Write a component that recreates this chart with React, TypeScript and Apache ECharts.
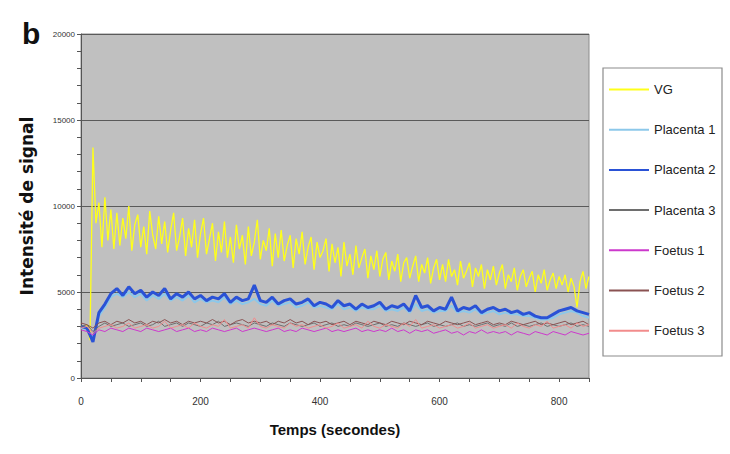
import React, { useEffect, useRef } from "react";
import * as echarts from "echarts";

// Sampling step (seconds) of each recorded series
const VG_STEP = 5;
const STEP = 10;

const seriesNames = ["VG", "Placenta 1", "Placenta 2", "Placenta 3", "Foetus 1", "Foetus 2", "Foetus 3"];
const seriesColors = ["#ffff1a", "#8cc8ea", "#2a52d6", "#6e6e6e", "#cc38cc", "#8a5252", "#f28c8c"];
const seriesWidths = [1.3, 2, 3, 1, 1, 1, 1];

const xTicks = [0, 200, 400, 600, 800];
const yTicks = [0, 5000, 10000, 15000, 20000];

// VG, t = 0..850 every 5 s
const vg = [
  3000, 2800, 3100, 2200, 13400, 9000, 10200, 7600, 10500, 8000, 9800, 7500,
  9600, 7700, 9300, 8100, 10000, 7400, 8900, 9500, 7600, 8800, 7200, 9700, 8300, 7500, 9400,
  7800, 9100, 7300, 8600, 9600, 7400, 8200, 9300, 7100, 8700, 7600, 9200, 7000, 8400,
  9300, 7200, 8100, 9000, 6800, 8500, 7300, 9100, 7000, 8200, 6700, 8900, 7500, 8300, 6600,
  8800, 7100, 7900, 9200, 6900, 8000, 7400, 8700, 6500, 8400, 7000, 8600, 6800, 7700, 8300,
  6400, 8100, 7200, 8500, 6600, 7600, 8200, 6300, 7900, 7000,
  7400, 8100, 6200, 7800, 6700, 7600, 5900, 7900, 6500, 7200, 6000, 7700, 6400, 7000, 7500,
  5800, 7100, 6300, 7400, 5900, 6900, 7300, 5700, 6800, 6200, 7200, 5600, 6700, 7000, 5800,
  6500, 7100, 5600, 6600, 6100, 7000, 5500, 6400, 6900, 5700,
  6600, 5600, 6900, 5900, 6300, 5400, 6800, 5800, 6200, 6700, 5300, 6400, 5900, 6600, 5200,
  6300, 5700, 6500, 5400, 6100, 6600, 5200, 6000, 5600, 6400, 5100, 5900, 6300, 5300, 5800,
  6200, 5000, 6000, 5500, 6300, 5100, 5700, 6100, 5200, 5900, 5400, 6000, 5000, 5800, 5300,
  4100, 5600, 6200, 5200, 5900,
];

// Other series, t = 0..850 every 10 s
const placenta1 = [
  2900, 2800, 2300, 3600, 4100, 4700, 4900, 4700, 5000, 4700,
  4900, 4500, 4800, 4600, 4900, 4500, 4700, 4500, 4800, 4400,
  4600, 4400, 4500, 4400, 4700, 4300, 4500, 4300, 4400, 4600,
  4300, 4200, 4500, 4200, 4300, 4400, 4100, 4200, 4400, 4100,
  4200, 4100, 4000, 4300, 4000, 4100, 3900, 4100, 4000, 4000,
  4200, 3900, 4000, 3900, 4100, 3800, 4300, 3900, 4000, 3800,
  3900, 3900, 4200, 3800, 3900, 3800, 4000, 3700, 3800, 3900,
  3700, 3800, 3700, 3700, 3600, 3600, 3500, 3400, 3400, 3500,
  3700, 3800, 3900, 3800, 3600, 3500,
];
const placenta2 = [
  3000, 2900, 2100, 3800, 4300, 4900, 5200, 4800, 5300, 4900,
  5100, 4700, 5000, 4800, 5200, 4600, 4900, 4700, 5000, 4600,
  4800, 4500, 4700, 4600, 4900, 4400, 4700, 4500, 4600, 5400,
  4500, 4400, 4700, 4300, 4500, 4600, 4300, 4400, 4600, 4200,
  4400, 4300, 4100, 4500, 4200, 4300, 4000, 4300, 4100, 4200,
  4400, 4000, 4200, 4100, 4300, 3900, 4800, 4100, 4200, 3900,
  4100, 4000, 4700, 3900, 4100, 4000, 4200, 3800, 4000, 4100,
  3900, 4000, 3800, 3900, 3700, 3800, 3600, 3500, 3500, 3700,
  3900, 4000, 4100, 3900, 3800, 3700,
];
const placenta3 = [
  3000, 3100, 2700, 3000, 3200, 3000, 3100, 3200, 3000, 3100,
  3200, 3000, 3100, 3300, 3000, 3100, 3200, 3000, 3200, 3100,
  3000, 3200, 3100, 3300, 3000, 3100, 3200, 3100, 3000, 3200,
  3100, 3000, 3200, 3100, 3000, 3200, 3100, 3000, 3100, 3200,
  3000, 3100, 3200, 3000, 3100, 3000, 3200, 3100, 3000, 3100,
  3200, 3000, 3100, 3000, 3200, 3100, 3000, 3100, 3200, 3000,
  3100, 3000, 3100, 3200, 3000, 3100, 3000, 3100, 3200, 3000,
  3100, 3000, 3200, 3000, 3100, 3000, 3100, 3200, 3000, 3100,
  3000, 3100, 3200, 3000, 3100, 3000,
];
const foetus1 = [
  2800, 2700, 2500, 2800, 2700, 2900, 2800, 2700, 2900, 2800,
  2700, 2900, 2800, 2700, 2800, 2900, 2700, 2800, 2900, 2700,
  2800, 2700, 2900, 2800, 2700, 2800, 2900, 2700, 2800, 2900,
  2800, 2700, 2800, 2900, 2700, 2800, 2700, 2900, 2800, 2700,
  2800, 2900, 2700, 2800, 2700, 2800, 2900, 2700, 2800, 2700,
  2800, 2700, 2900, 2700, 2800, 2600, 2800, 2700, 2800, 2600,
  2700, 2800, 2600, 2700, 2500, 2700, 2600, 2800, 2600, 2700,
  2600, 2700, 2500, 2700, 2600, 2500, 2700, 2600, 2500, 2700,
  2600, 2500, 2700, 2600, 2500, 2600,
];
const foetus2 = [
  3200, 3100, 2900, 3200, 3300, 3100, 3300, 3200, 3400, 3200,
  3300, 3100, 3300, 3200, 3400, 3200, 3300, 3100, 3300, 3200,
  3300, 3200, 3400, 3200, 3300, 3100, 3300, 3400, 3200, 3300,
  3200, 3300, 3100, 3300, 3200, 3400, 3200, 3300, 3100, 3300,
  3200, 3300, 3100, 3200, 3300, 3100, 3300, 3200, 3100, 3300,
  3200, 3100, 3300, 3200, 3100, 3300, 3200, 3100, 3300, 3200,
  3100, 3300, 3200, 3100, 3200, 3300, 3100, 3200, 3300, 3100,
  3200, 3100, 3300, 3200, 3100, 3200, 3300, 3100, 3200, 3100,
  3200, 3300, 3100, 3200, 3300, 3100,
];
const foetus3 = [
  2900, 3000, 2600, 2900, 3000, 3100, 2900, 3000, 3200, 2900,
  3000, 3100, 2900, 3000, 3300, 2900, 3000, 3100, 2900, 3200,
  3000, 2900, 3100, 3000, 3400, 2900, 3000, 3100, 2900, 3500,
  3000, 2900, 3100, 3000, 2900, 3200, 3000, 3100, 2900, 3000,
  3100, 2900, 3000, 3200, 2900, 3000, 3100, 2900, 3300, 3000,
  2900, 3100, 3000, 2900, 3200, 3000, 3400, 2900, 3000, 3100,
  2900, 3000, 3100, 2900, 3000, 3200, 2900, 3000, 3100, 2900,
  3000, 3100, 2900, 3200, 3000, 2900, 3100, 3000, 3300, 2900,
  3000, 3100, 2900, 3200, 3000, 3100,
];

const seriesValues = [vg, placenta1, placenta2, placenta3, foetus1, foetus2, foetus3];
const seriesSteps = [VG_STEP, STEP, STEP, STEP, STEP, STEP, STEP];

export default function App() {
  const ref = useRef<HTMLDivElement>(null);
  useEffect(() => {
    document.body.style.margin = "0";
    const chart = echarts.init(ref.current!, undefined, { renderer: "svg" });
    const series = seriesNames.map((name, i) => ({
      name,
      type: "line",
      symbol: "none",
      showSymbol: false,
      data: seriesValues[i].map((v, k) => [k * seriesSteps[i], v]),
      lineStyle: { color: seriesColors[i], width: seriesWidths[i] },
      itemStyle: { color: seriesColors[i] },
      z: 2,
    }));
    chart.setOption({
      animation: false,
      backgroundColor: "#ffffff",
      grid: {
        left: 81,
        top: 34,
        right: 141,
        bottom: 76,
        show: true,
        backgroundColor: "#c0c0c0",
        borderColor: "#8c8c8c",
        borderWidth: 1,
      },
      graphic: [
        {
          type: "text",
          left: 22,
          top: 18,
          style: { text: "b", font: "bold 30px 'Liberation Sans', Arial, sans-serif", fill: "#111" },
        },
        {
          type: "rect",
          shape: { x: 603, y: 68, width: 119, height: 288 },
          style: { fill: "#ffffff", stroke: "#8c8c8c", lineWidth: 1.2 },
          z: 1,
        },
      ],
      legend: {
        orient: "vertical",
        left: 603,
        top: 69,
        padding: [14, 5, 14, 5],
        itemWidth: 40,
        itemHeight: 14,
        itemGap: 27.2,
        z: 5,
        itemStyle: { opacity: 0 },
        textStyle: { fontFamily: "'Liberation Sans', Arial, sans-serif", fontSize: 13, color: "#222" },
        data: seriesNames,
      },
      xAxis: {
        type: "value",
        min: 0,
        max: 850,
        interval: 200,
        name: "Temps (secondes)",
        nameLocation: "middle",
        nameGap: 44,
        nameTextStyle: { fontFamily: "'Liberation Sans', Arial, sans-serif", fontWeight: "bold", fontSize: 15, color: "#111" },
        axisLine: { show: true, lineStyle: { color: "#555", width: 1 } },
        axisTick: { show: true, length: 4, lineStyle: { color: "#555" } },
        minorTick: { show: true, splitNumber: 4, length: 4, lineStyle: { color: "#555" } },
        splitLine: { show: false },
        axisLabel: {
          showMaxLabel: false,
          margin: 18,
          fontSize: 10,
          color: "#333",
          fontFamily: "'Liberation Sans', Arial, sans-serif",
          formatter: (v: number) => (xTicks.includes(v) ? String(v) : ""),
        },
      },
      yAxis: {
        type: "value",
        min: 0,
        max: 20000,
        interval: 5000,
        name: "Intensité de signal",
        nameLocation: "middle",
        nameGap: 46,
        nameTextStyle: { fontFamily: "'DejaVu Sans', sans-serif", fontWeight: "bold", fontSize: 17, color: "#111" },
        axisLine: { show: true, lineStyle: { color: "#555", width: 1 } },
        axisTick: { show: true, length: 4, lineStyle: { color: "#555" } },
        minorTick: { show: true, splitNumber: 5, length: 4, lineStyle: { color: "#555" } },
        splitLine: { show: true, lineStyle: { color: "#5a5a5a", width: 1.2 } },
        axisLabel: {
          margin: 6,
          fontSize: 8,
          color: "#333",
          fontFamily: "'Liberation Sans', Arial, sans-serif",
          formatter: (v: number) => (yTicks.includes(v) ? String(v) : ""),
        },
      },
      series,
    });
    return () => chart.dispose();
  }, []);
  return <div ref={ref} style={{ position: "absolute", left: 0, top: 0, width: 730, height: 454 }} />;
}
